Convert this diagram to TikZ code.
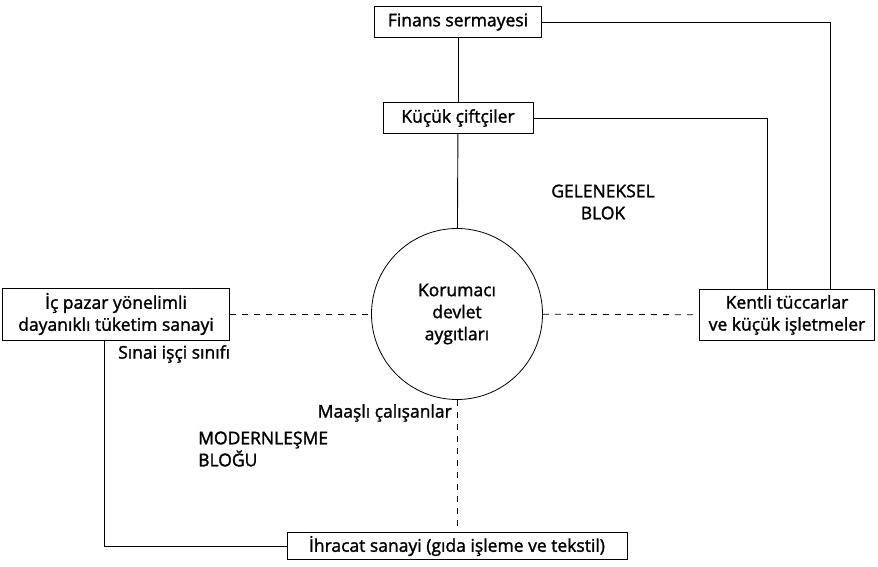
\documentclass[tikz,border=0pt]{standalone}
\usepackage{fontspec}
\setmainfont{Open Sans}[FakeBold=1.6]
\usetikzlibrary{positioning}

\tikzset{
  kutu/.style={draw, rectangle, align=center, inner sep=1pt, line width=0.9pt},
  yazi/.style={align=center, inner sep=0pt},
  kesik/.style={dash pattern=on 6pt off 6pt, line width=0.8pt},
  hat/.style={line width=0.9pt}
}

\begin{document}
\begin{tikzpicture}[x=1pt, y=-1pt, font=\fontsize{17.5}{22}\selectfont]
    \useasboundingbox (0,0) rectangle (878,567);
    % ortadaki devlet dairesi
    \node[circle, draw, line width=0.8pt, minimum size=171pt, inner sep=0pt, align=center] (kor) at (457,314) {Korumacı\\devlet\\aygıtları};
    \node[kutu, minimum width=167pt, minimum height=31pt] (fin) at (458,22) {Finans sermayesi};
    \node[kutu, minimum width=150pt, minimum height=31pt] (kuc) at (458,118) {Küçük çiftçiler};
    \node[kutu, minimum width=175pt, minimum height=51pt] (ken) at (787,315) {Kentli tüccarlar\\ve küçük işletmeler};
    \node[kutu, minimum width=227pt, minimum height=52pt] (ic) at (116,314) {İç pazar yönelimli\\dayanıklı tüketim sanayi};
    \node[kutu, minimum width=340pt, minimum height=27pt] (ihr) at (457,546) {İhracat sanayi (gıda işleme ve tekstil)};
    % bloklar
    \node[yazi] (gel) at (603,202) {GELENEKSEL\\BLOK};
    \node[yazi, align=left, anchor=west] (mod) at (198,449) {MODERNLEŞME\\BLOĞU};
    \node[yazi, anchor=west] (sin) at (118,354) {Sınai işçi sınıfı};
    \node[yazi, anchor=east] (maa) at (452,413) {Maaşlı çalışanlar};
    % baglantilar
    \draw[hat] (fin) -- (kuc);
    \draw[hat] (kuc) -- (kor);
    \draw[hat] (fin.east) -| ([xshift=43pt]ken.north);
    \draw[hat] (kuc.east) -| ([xshift=-20pt]ken.north);
    \draw[kesik] (ic) -- (kor);
    \draw[kesik] (kor) -- (ken);
    \draw[kesik] (kor) -- (ihr);
    \draw[hat] ([xshift=-12pt]ic.south) |- (ihr.west);
\end{tikzpicture}
\end{document}
